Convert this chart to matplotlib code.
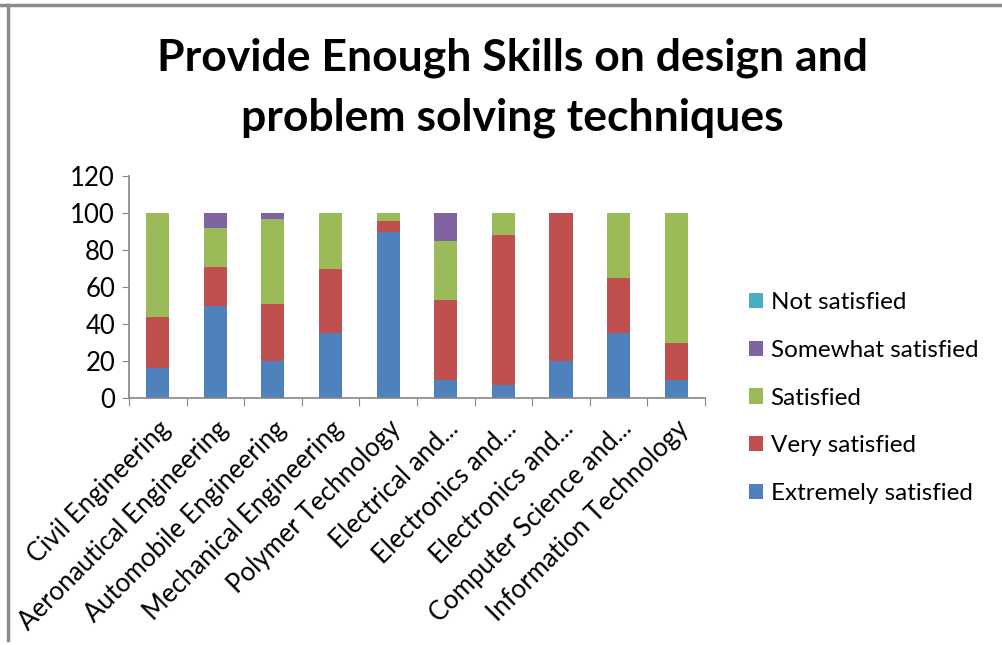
import numpy as np
import matplotlib.pyplot as plt
from matplotlib.lines import Line2D
from matplotlib.patches import Patch

plt.rcParams["font.family"] = ["Lato", "DejaVu Sans"]

departments = [
    "Civil Engineering",
    "Aeronautical Engineering",
    "Automobile Engineering",
    "Mechanical Engineering",
    "Polymer Technology",
    "Electrical and...",
    "Electronics and...",
    "Electronics and...",
    "Computer Science and...",
    "Information Technology",
]

extremely = [16, 50, 20, 35, 90, 10, 7, 20, 35, 10]
very = [28, 21, 31, 35, 5.5, 43, 81, 80, 30, 20]
satisfied = [56, 21, 46, 30, 4.5, 32, 12, 0, 35, 70]
somewhat = [0, 8, 3, 0, 0, 15, 0, 0, 0, 0]
not_sat = [0, 0, 0, 0, 0, 0, 0, 0, 0, 0]

series = [
    ("Extremely satisfied", extremely, "#4F81BD"),
    ("Very satisfied", very, "#C0504D"),
    ("Satisfied", satisfied, "#9BBB59"),
    ("Somewhat satisfied", somewhat, "#8064A2"),
    ("Not satisfied", not_sat, "#4BACC6"),
]

fig = plt.figure(figsize=(10.02, 6.45), dpi=100)
ax = fig.add_axes([0.1287, 0.3829, 0.5749, 0.3442])

x = np.arange(len(departments))
bottom = np.zeros(len(departments))
for name, vals, color in series:
    vals = np.array(vals, dtype=float)
    ax.bar(x, vals, width=0.4, bottom=bottom, color=color, label=name, zorder=2)
    bottom += vals

ax.set_xlim(-0.5, len(departments) - 0.5)
ax.set_ylim(0, 120)
ax.set_yticks(range(0, 121, 20))
ax.tick_params(axis="y", labelsize=18.5, length=5, color="#868686", pad=5)
# boundary ticks between categories, labels centred on the bars
ax.set_xticks(np.arange(-0.5, len(departments), 1.0))
ax.set_xticklabels([])
ax.tick_params(axis="x", which="major", length=6, color="#868686", direction="out")
ax.set_xticks(x, minor=True)
ax.set_xticklabels(departments, minor=True, rotation=45, ha="right",
                   rotation_mode="anchor", fontsize=18.5)
ax.tick_params(axis="x", which="minor", length=0, pad=13)

for side in ["top", "right"]:
    ax.spines[side].set_visible(False)
for side in ["left", "bottom"]:
    ax.spines[side].set_color("#868686")
    ax.spines[side].set_linewidth(1.2)

fig.text(0.511, 0.910, "Provide Enough Skills on design and",
         ha="center", va="center", fontsize=32, fontweight="bold")
fig.text(0.511, 0.818, "problem solving techniques",
         ha="center", va="center", fontsize=32, fontweight="bold")

handles = [Patch(facecolor=c, label=n) for n, _, c in reversed(series)]
fig.legend(handles=handles, loc="upper left", bbox_to_anchor=(0.726, 0.581),
           frameon=False, fontsize=17.5, handlelength=0.58, handleheight=0.58,
           handletextpad=0.3, labelspacing=1.1)

fig.add_artist(Line2D([0, 1], [0.9925, 0.9925], color="#8c8c8c", lw=2.5,
                      transform=fig.transFigure))
fig.add_artist(Line2D([0.0075, 0.0075], [0.0075, 0.9925], color="#8c8c8c", lw=2.5,
                      transform=fig.transFigure))

fig.savefig("out.png", dpi=100)
